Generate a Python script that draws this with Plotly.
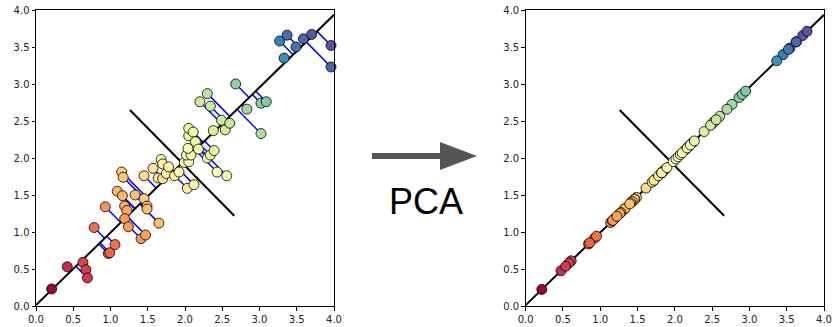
import numpy as np
import plotly.graph_objects as go

x_vals = [0.21, 0.42, 0.63, 0.67, 0.69, 0.78, 0.93, 0.97, 0.99, 1.06,
          1.09, 1.15, 1.17, 1.16, 1.19, 1.22, 1.19, 1.24, 1.33, 1.45,
          1.45, 1.49, 1.49, 1.41, 1.47, 1.65, 1.57, 1.64, 1.70, 1.68,
          1.70, 1.75, 1.78, 1.86, 1.92, 2.03, 2.12, 1.99, 2.05, 2.30,
          2.43, 2.56, 2.02, 2.08, 2.04, 2.05, 2.05, 2.11, 2.14, 2.18,
          2.34, 2.39, 2.20, 2.30, 2.34, 2.38, 2.49, 2.54, 2.60, 2.68,
          2.83, 3.02, 3.09, 3.02, 3.27, 3.33, 3.37, 3.49, 3.59, 3.70,
          3.96, 3.96]
y_vals = [0.23, 0.53, 0.59, 0.49, 0.38, 1.06, 1.34, 0.71, 0.72, 0.83,
          1.55, 1.81, 1.74, 1.49, 1.35, 1.29, 1.18, 1.07, 1.50, 1.76,
          1.45, 1.35, 1.31, 0.91, 0.96, 1.12, 1.86, 1.73, 1.72, 1.98,
          1.92, 1.79, 1.88, 1.76, 1.81, 1.59, 1.64, 1.94, 1.95, 2.00,
          1.81, 1.76, 2.04, 2.04, 2.13, 2.30, 2.40, 2.35, 2.22, 2.12,
          2.04, 2.10, 2.76, 2.87, 2.70, 2.37, 2.51, 2.38, 2.47, 3.00,
          2.66, 2.74, 2.76, 2.33, 3.58, 3.35, 3.66, 3.50, 3.61, 3.67,
          3.52, 3.23]

axis_ticks = [0.0, 0.5, 1.0, 1.5, 2.0, 2.5, 3.0, 3.5, 4.0]
axis_labels = ["0.0", "0.5", "1.0", "1.5", "2.0", "2.5", "3.0", "3.5", "4.0"]

# ---- PCA computed from the data ----
X = np.column_stack([x_vals, y_vals])
mean = X.mean(axis=0)
_, _, vt = np.linalg.svd(X - mean)
pc1 = vt[0] if vt[0][0] > 0 else -vt[0]
pc2 = np.array([pc1[1], -pc1[0]])
t = (X - mean) @ pc1
proj = mean + np.outer(t, pc1)

# principal axis line over x range 0..4
line_x = [0.0, 4.0]
line_y = [mean[1] + (xx - mean[0]) * pc1[1] / pc1[0] for xx in line_x]
perp = [mean - 1.0 * pc2, mean + 1.0 * pc2]
if perp[0][0] > perp[1][0]:
    perp = perp[::-1]

seg_x, seg_y = [], []
for (px_, py_), (qx, qy) in zip(X, proj):
    seg_x += [px_, qx, None]
    seg_y += [py_, qy, None]

marker = dict(size=10, color=t, colorscale="Spectral", cmin=t.min(), cmax=t.max(),
              line=dict(color="black", width=0.8))

fig = go.Figure()
# left panel
fig.add_trace(go.Scatter(x=seg_x, y=seg_y, mode="lines", line=dict(color="blue", width=1.5),
                         xaxis="x", yaxis="y", hoverinfo="skip"))
fig.add_trace(go.Scatter(x=line_x, y=line_y, mode="lines", line=dict(color="black", width=2),
                         xaxis="x", yaxis="y"))
fig.add_trace(go.Scatter(x=[perp[0][0], perp[1][0]], y=[perp[0][1], perp[1][1]], mode="lines",
                         line=dict(color="black", width=2), xaxis="x", yaxis="y"))
fig.add_trace(go.Scatter(x=X[:, 0], y=X[:, 1], mode="markers", marker=marker,
                         xaxis="x", yaxis="y", cliponaxis=False))
# right panel
fig.add_trace(go.Scatter(x=line_x, y=line_y, mode="lines", line=dict(color="black", width=2),
                         xaxis="x2", yaxis="y2"))
fig.add_trace(go.Scatter(x=[perp[0][0], perp[1][0]], y=[perp[0][1], perp[1][1]], mode="lines",
                         line=dict(color="black", width=2), xaxis="x2", yaxis="y2"))
fig.add_trace(go.Scatter(x=proj[:, 0], y=proj[:, 1], mode="markers", marker=marker,
                         xaxis="x2", yaxis="y2", cliponaxis=False))

W, H = 833, 327
axis_common = dict(range=[0, 4], tickvals=axis_ticks, ticktext=axis_labels,
                   showgrid=False, zeroline=False, showline=True, mirror=True,
                   linecolor="black", linewidth=1, ticks="outside", ticklen=3.5,
                   tickwidth=0.8, tickcolor="black", automargin=False,
                   ticklabeloverflow="allow",
                   tickfont=dict(family="DejaVu Sans", size=10, color="#222"))


def px(x):
    return x / W


def py(y):
    return (H - y) / H


ydom = [py(306), py(10)]

arrow_path = "M {} {} L {} {} L {} {} L {} {} L {} {} L {} {} L {} {} Z".format(
    px(372), py(153), px(440), py(153), px(440), py(142), px(477), py(156),
    px(440), py(170), px(440), py(159), px(372), py(159))

fig.update_layout(
    width=W, height=H, margin=dict(l=0, r=0, t=0, b=0),
    paper_bgcolor="white", plot_bgcolor="white", showlegend=False,
    xaxis=dict(domain=[px(36), px(334)], anchor="y", **axis_common),
    yaxis=dict(domain=ydom, anchor="x", **axis_common),
    xaxis2=dict(domain=[px(525.7), px(824)], anchor="y2", **axis_common),
    yaxis2=dict(domain=ydom, anchor="x2", **axis_common),
    shapes=[dict(type="path", xref="paper", yref="paper", path=arrow_path,
                 fillcolor="#555555", line=dict(width=0))],
    annotations=[dict(text="PCA", x=px(426), y=py(201), xref="paper", yref="paper",
                      showarrow=False, xanchor="center", yanchor="middle",
                      font=dict(family="Liberation Sans, Arial", size=36, color="black"))],
)

# remove the default page margin so the figure sits at the window's top-left
fig.write_html("out.html", config={"displayModeBar": False},
               post_script="document.body.style.margin='0';document.body.style.overflow='hidden';")
